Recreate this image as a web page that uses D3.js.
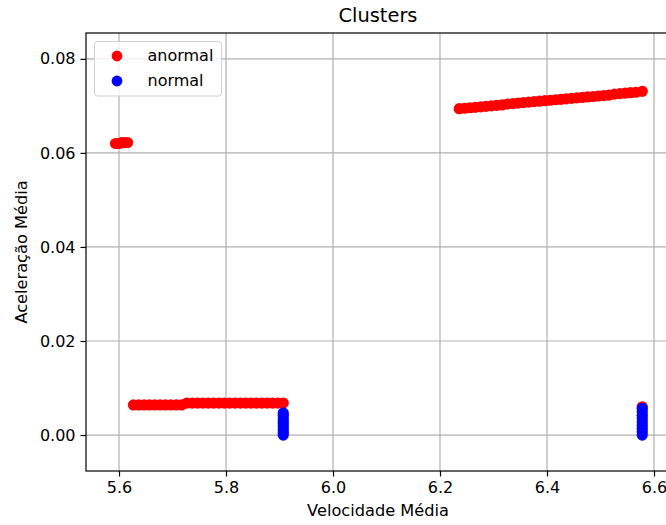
<!DOCTYPE html>
<html>
<head>
<meta charset="utf-8">
<script src="https://cdn.jsdelivr.net/npm/d3@7"></script>
<style>
  body { margin: 0; background: #fff; }
  svg text { font-family: "DejaVu Sans", sans-serif; fill: #000; }
</style>
</head>
<body>
<div id="chart"></div>
<script>
// series values: [velocidade, aceleracao]
var anormalA = [[5.5935, 0.0620], [5.600, 0.0620], [5.605, 0.0622], [5.610, 0.0622], [5.616, 0.0622]];
var anormalB = [[5.627, 0.0064], [5.637, 0.0064], [5.647, 0.0064], [5.657, 0.0064], [5.667, 0.0064],
  [5.677, 0.0064], [5.687, 0.0064], [5.697, 0.0064], [5.707, 0.0064], [5.717, 0.0064],
  [5.727, 0.0068], [5.737, 0.0068], [5.747, 0.0068], [5.757, 0.0068], [5.767, 0.0068],
  [5.777, 0.0068], [5.787, 0.0068], [5.797, 0.0068], [5.807, 0.0068], [5.817, 0.0068],
  [5.827, 0.0068], [5.837, 0.0068], [5.847, 0.0068], [5.857, 0.0068], [5.867, 0.0068],
  [5.877, 0.0068], [5.887, 0.0068], [5.897, 0.0068], [5.907, 0.0068]];
var anormalC = [[6.236, 0.0694], [6.246, 0.0695], [6.256, 0.0696], [6.266, 0.0697], [6.276, 0.0698],
  [6.286, 0.0699], [6.296, 0.0700], [6.306, 0.0701], [6.316, 0.0702], [6.326, 0.0704],
  [6.336, 0.0705], [6.346, 0.0706], [6.356, 0.0707], [6.366, 0.0708], [6.376, 0.0709],
  [6.386, 0.0710], [6.396, 0.0711], [6.406, 0.0712], [6.416, 0.0713], [6.426, 0.0714],
  [6.436, 0.0715], [6.446, 0.0716], [6.456, 0.0717], [6.466, 0.0718], [6.476, 0.0719],
  [6.486, 0.0720], [6.496, 0.0721], [6.506, 0.0722], [6.516, 0.0723], [6.526, 0.0725],
  [6.536, 0.0726], [6.546, 0.0727], [6.556, 0.0728], [6.566, 0.0729], [6.578, 0.0731]];
var anormalD = [[6.578, 0.0060]];
var normalA = [[5.907, 0.0000], [5.907, 0.0006], [5.907, 0.0012], [5.907, 0.0018], [5.907, 0.0024],
  [5.907, 0.0030], [5.907, 0.0036], [5.907, 0.0042], [5.907, 0.0047]];
var normalB = [[6.578, 0.0000], [6.578, 0.0007], [6.578, 0.0014], [6.578, 0.0021], [6.578, 0.0028],
  [6.578, 0.0035], [6.578, 0.0042], [6.578, 0.0050], [6.578, 0.0057]];

var xTicks = [5.6, 5.8, 6.0, 6.2, 6.4, 6.6];
var yTicks = [0.00, 0.02, 0.04, 0.06, 0.08];
var seriesNames = ["anormal", "normal"];
var seriesColors = ["#ff0000", "#0000ff"];

var W = 666, H = 525;
var plotL = 86, plotR = 670, plotT = 33, plotB = 471;

var svg = d3.select("#chart").append("svg").attr("width", W).attr("height", H);

var x = d3.scaleLinear().domain([5.5383, 6.6299]).range([plotL, plotR]);
var y = d3.scaleLinear().domain([-0.00765, 0.0855]).range([plotB, plotT]);

// grid
svg.append("g").selectAll("line").data(xTicks).join("line")
  .attr("x1", d => x(d)).attr("x2", d => x(d))
  .attr("y1", plotT).attr("y2", plotB)
  .attr("stroke", "#b0b0b0").attr("stroke-width", 1.2);
svg.append("g").selectAll("line").data(yTicks).join("line")
  .attr("x1", plotL).attr("x2", plotR)
  .attr("y1", d => y(d)).attr("y2", d => y(d))
  .attr("stroke", "#b0b0b0").attr("stroke-width", 1.2);

// points, red first then blue
var anormal = anormalA.concat(anormalB, anormalC, anormalD);
var normal = normalA.concat(normalB);
[anormal, normal].forEach(function (pts, i) {
  svg.append("g").selectAll("circle").data(pts).join("circle")
    .attr("cx", d => x(d[0])).attr("cy", d => y(d[1]))
    .attr("r", 5.6).attr("fill", seriesColors[i]);
});

// axes
var xAxis = d3.axisBottom(x).tickValues(xTicks).tickFormat(d3.format(".1f")).tickSizeOuter(0).tickSize(5.5).tickPadding(5);
var yAxis = d3.axisLeft(y).tickValues(yTicks).tickFormat(d3.format(".2f")).tickSizeOuter(0).tickSize(5.5).tickPadding(5);
var gx = svg.append("g").attr("transform", "translate(0," + plotB + ")").call(xAxis);
var gy = svg.append("g").attr("transform", "translate(" + plotL + ",0)").call(yAxis);
[gx, gy].forEach(function (g) {
  g.select(".domain").remove();
  g.attr("font-family", null).attr("font-size", null);
  g.selectAll("line").attr("stroke", "#000").attr("stroke-width", 1.2);
  g.selectAll("text").style("font-size", "16px").attr("fill", "#000");
});

// spines (right one falls outside the window)
svg.append("rect").attr("x", plotL).attr("y", plotT)
  .attr("width", plotR - plotL).attr("height", plotB - plotT)
  .attr("fill", "none").attr("stroke", "#000").attr("stroke-width", 1.2);

// title and labels
svg.append("text").attr("x", (plotL + plotR) / 2).attr("y", 22)
  .attr("text-anchor", "middle").style("font-size", "19.4px").text("Clusters");
svg.append("text").attr("x", (plotL + plotR) / 2).attr("y", 516)
  .attr("text-anchor", "middle").style("font-size", "16.2px").text("Velocidade Média");
svg.append("text").attr("transform", "translate(27," + ((plotT + plotB) / 2) + ") rotate(-90)")
  .attr("text-anchor", "middle").style("font-size", "16.2px").text("Aceleração Média");

// legend
var lg = svg.append("g").attr("transform", "translate(94.5,41.5)");
lg.append("rect").attr("width", 127).attr("height", 54.5).attr("rx", 3)
  .attr("fill", "#fff").attr("fill-opacity", 0.8).attr("stroke", "#d0d0d0");
seriesNames.forEach(function (name, i) {
  lg.append("circle").attr("cx", 22.5).attr("cy", 14.5 + i * 25).attr("r", 5.4).attr("fill", seriesColors[i]);
  lg.append("text").attr("x", 53).attr("y", 19 + i * 25).style("font-size", "16px").text(name);
});
</script>
</body>
</html>
